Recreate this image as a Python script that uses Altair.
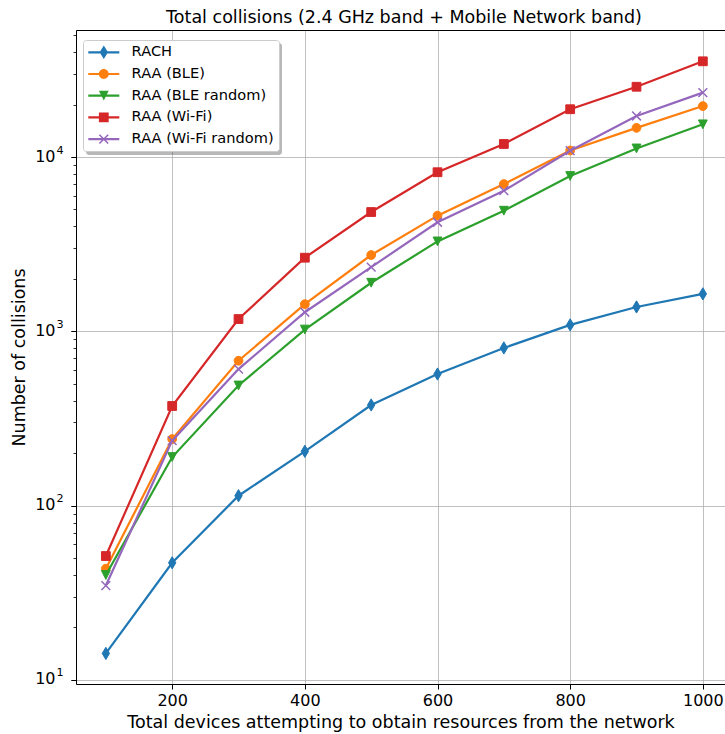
import math
import altair as alt
import pandas as pd

# ---------------- data ----------------
DEVICES = [100, 200, 300, 400, 500, 600, 700, 800, 900, 1000]
SERIES = ["RACH", "RAA (BLE)", "RAA (BLE random)", "RAA (Wi-Fi)", "RAA (Wi-Fi random)"]
RACH = [14.2, 47, 114, 205, 378, 569, 803, 1089, 1380, 1640]
RAA_BLE = [43.5, 241, 678, 1432, 2740, 4610, 7000, 10900, 14700, 19600]
RAA_BLE_RANDOM = [40, 190, 489, 1024, 1900, 3280, 4920, 7780, 11200, 15400]
RAA_WIFI = [51.4, 373, 1176, 2645, 4835, 8180, 11880, 18800, 25300, 35400]
RAA_WIFI_RANDOM = [34.8, 236, 607, 1287, 2335, 4225, 6410, 10870, 17200, 23400]
VALUES = [RACH, RAA_BLE, RAA_BLE_RANDOM, RAA_WIFI, RAA_WIFI_RANDOM]
COLORS = ["#1f77b4", "#ff7f0e", "#2ca02c", "#d62728", "#9467bd"]

X_TICKS = [200, 400, 600, 800, 1000]
Y_MAJOR = [10, 100, 1000, 10000]
Y_MINOR = [m * 10 ** k for k in range(1, 5) for m in range(2, 10) if m * 10 ** k < 53000]

FONT = "DejaVu Sans"

# ---------------- marker shapes ----------------
# plot markers (unit box -1..1, scaled by sqrt(size))
PLOT_MARKERS = [
    dict(shape="M0,-1L0.6,0L0,1L-0.6,0Z", size=150, filled=True),   # thin diamond
    dict(shape="circle", size=77, filled=True),
    dict(shape="M-1,-1L1,-1L0,1Z", size=77, filled=True),           # triangle down
    dict(shape="square", size=77, filled=True),
    dict(shape="M-1,-1L1,1M-1,1L1,-1", size=77, filled=False),      # x
]

# legend symbols: line stub + marker, drawn as filled geometry (px -> units)
U = 7.0          # px per unit with legend symbolSize 196
CX = 8.5         # marker centre relative to symbol centre (px)


def _p(x, y):
    return f"{x / U:.4f},{y / U:.4f}"


def _rect(x0, x1, y0, y1):
    return f"M{_p(x0, y0)}L{_p(x1, y0)}L{_p(x1, y1)}L{_p(x0, y1)}Z"


LINE = _rect(-7, 24, -1.1, 1.1)


def _diamond():
    h, w = 6.7, 4.2
    return f"M{_p(CX, -h)}L{_p(CX + w, 0)}L{_p(CX, h)}L{_p(CX - w, 0)}Z"


def _circle():
    r = 4.9
    return (f"M{_p(CX + r, 0)}A{r / U:.4f},{r / U:.4f} 0 1,1 {_p(CX - r, 0)}"
            f"A{r / U:.4f},{r / U:.4f} 0 1,1 {_p(CX + r, 0)}Z")


def _tri():
    s = 4.9
    return f"M{_p(CX - s, -s)}L{_p(CX + s, -s)}L{_p(CX, s)}Z"


def _square():
    s = 4.9
    return _rect(CX - s, CX + s, -s, s)


def _x():
    a, d = 4.4, 0.55
    b1 = (f"M{_p(CX - a + d, -a - d)}L{_p(CX + a + d, a - d)}"
          f"L{_p(CX + a - d, a + d)}L{_p(CX - a - d, -a + d)}Z")
    b2 = (f"M{_p(CX + a + d, -a + d)}L{_p(CX - a + d, a + d)}"
          f"L{_p(CX - a - d, a - d)}L{_p(CX + a - d, -a - d)}Z")
    return b1 + b2


LEGEND_SHAPES = [LINE + _diamond(), LINE + _circle(), LINE + _tri(), LINE + _square(), LINE + _x()]

# ---------------- scales & axes ----------------
XS = alt.Scale(domain=[55, 1033.4], nice=False, zero=False)
YS = alt.Scale(type="log", domain=[9.48, 53540], nice=False)

common = dict(labelFont=FONT, titleFont=FONT, labelColor="#000", titleColor="#000",
              tickColor="#000", domainColor="#000", tickWidth=1, domainWidth=1)

x_axis = alt.Axis(values=X_TICKS, format="d", grid=True, gridColor="#b0b0b0", gridWidth=0.8,
                  tickSize=5, labelFontSize=16, labelPadding=3, labelFlush=False,
                  title="Total devices attempting to obtain resources from the network",
                  titleFontSize=17.5, titleFontWeight="normal", titlePadding=5, **common)
x_top = alt.Axis(orient="top", labels=False, ticks=False, grid=False, title=None,
                 domainColor="#000", domainWidth=1)

y_axis = alt.Axis(orient="left", values=Y_MAJOR, labelExpr="'10'", grid=True,
                  gridColor="#b0b0b0", gridWidth=0.8, tickSize=5, labelFontSize=16,
                  labelPadding=16, labelOffset=-1, labelFlush=False,
                  title="Number of collisions", titleFontSize=17.5,
                  titleFontWeight="normal", titlePadding=6, **common)
y_exp = alt.Axis(orient="left", values=Y_MAJOR,
                 labelExpr="'' + round(log(datum.value) / LN10)", grid=False, domain=False,
                 tickSize=5, tickColor="#000", tickWidth=1, labelFontSize=11.2,
                 labelFont=FONT, labelColor="#000", labelPadding=8, labelOffset=-7,
                 labelFlush=False, title=None)
y_minor = alt.Axis(orient="left", values=Y_MINOR, labels=False, grid=False, domain=False,
                   tickSize=3, tickColor="#000", tickWidth=0.8, title=None)

layers = []

# legend shadow (decoration)
shadow = alt.Chart(pd.DataFrame({"k": [0]})).mark_rect(
    color="#4d4d4d", opacity=0.4, cornerRadius=3
).encode(x=alt.value(10), x2=alt.value(206), y=alt.value(13), y2=alt.value(125))
layers.append(shadow)

for i, (name, vals, col, mk) in enumerate(zip(SERIES, VALUES, COLORS, PLOT_MARKERS)):
    df = pd.DataFrame({"devices": DEVICES, "collisions": vals, "series": name})
    if i == 0:
        lx, ly, px, py = x_axis, y_axis, x_top, y_exp
    elif i == 1:
        lx, ly, px, py = None, y_minor, None, None
    else:
        lx = ly = px = py = None
    line = alt.Chart(df).mark_line(color=col, strokeWidth=2.2).encode(
        x=alt.X("devices:Q", scale=XS, axis=lx),
        y=alt.Y("collisions:Q", scale=YS, axis=ly),
    )
    if mk["filled"]:
        pm = alt.Chart(df).mark_point(shape=mk["shape"], size=mk["size"], filled=True,
                                      fill=col, stroke=col, strokeWidth=1, opacity=1)
    else:
        pm = alt.Chart(df).mark_point(shape=mk["shape"], size=mk["size"], filled=False,
                                      stroke=col, strokeWidth=1.5, opacity=1)
    pts = pm.encode(
        x=alt.X("devices:Q", scale=XS, axis=px),
        y=alt.Y("collisions:Q", scale=YS, axis=py),
    )
    layers += [line, pts]

LEG = alt.Legend(orient="none", legendX=7, legendY=10, title=None, padding=5,
                 rowPadding=6.7, symbolSize=196, symbolStrokeWidth=0, symbolOpacity=1,
                 labelOffset=29, labelFontSize=14.6, labelFont=FONT, labelColor="#000",
                 labelLimit=300, fillColor="#ffffff", strokeColor="#cccccc",
                 cornerRadius=3)

leg_df = pd.DataFrame({"series": SERIES})
legend_layer = alt.Chart(leg_df).mark_point(filled=True, opacity=1).encode(
    color=alt.Color("series:N", scale=alt.Scale(domain=SERIES, range=COLORS), legend=LEG),
    shape=alt.Shape("series:N", scale=alt.Scale(domain=SERIES, range=LEGEND_SHAPES), legend=LEG),
).transform_filter("false")
layers.append(legend_layer)

chart = alt.layer(*layers).resolve_axis(x="independent", y="independent").properties(
    width=649,
    height=654,
    autosize=alt.AutoSizeParams(type="none"),
    padding={"left": 76, "top": 30, "right": 0, "bottom": 50},
    title=alt.TitleParams(
        text="Total collisions (2.4 GHz band + Mobile Network band)",
        fontSize=17.5, font=FONT, fontWeight="normal", color="#000",
        anchor="middle", offset=3.6, dx=3.5,
    ),
).configure_view(stroke=None).configure(font=FONT)

chart.save("out.html", embed_options={"renderer": "svg", "actions": False})
